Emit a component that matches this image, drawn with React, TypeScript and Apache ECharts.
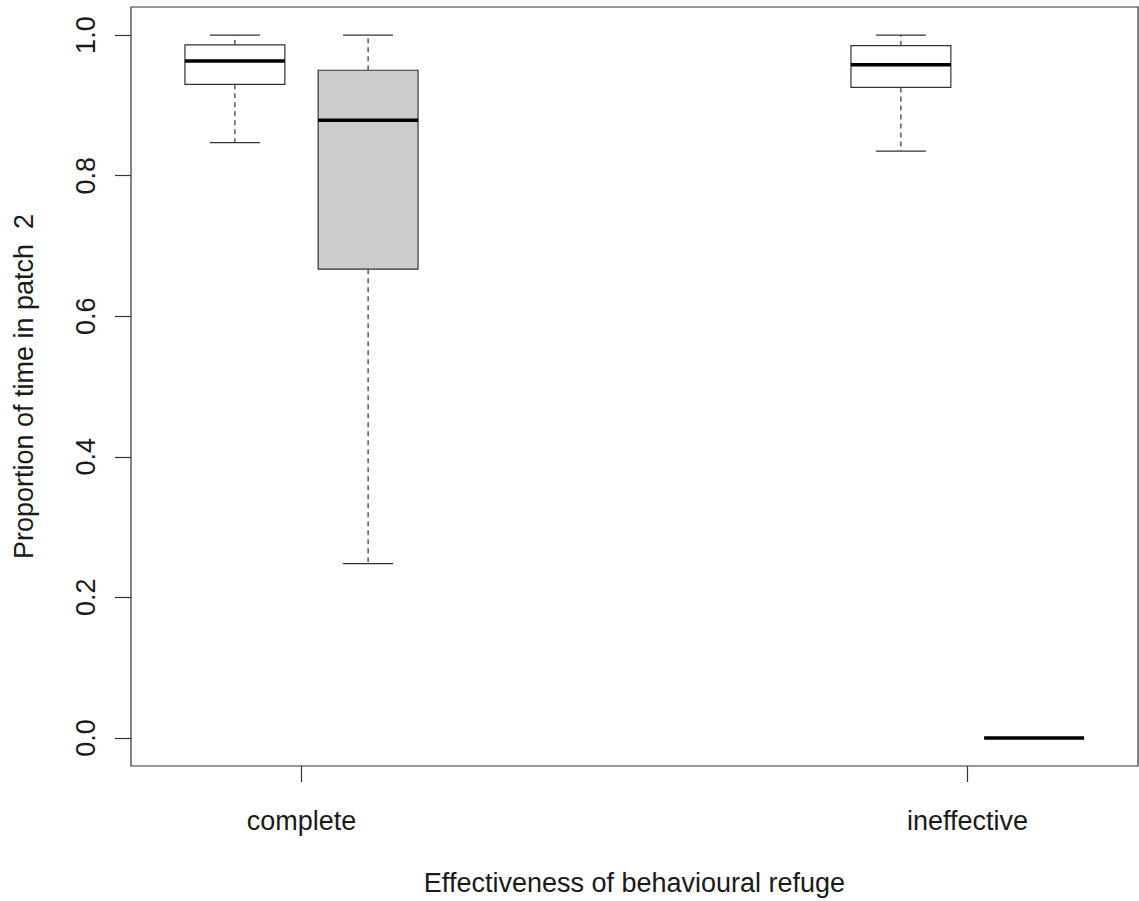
import React, { useEffect, useRef } from "react";
import * as echarts from "echarts";

// ---- data ----
const categories = ["complete", "ineffective"];
const categoryPositions = [1.5, 6.5];
const boxPositions = [1, 2, 6, 7];
const boxMin = [0.847, 0.248, 0.835, 0.0];
const boxQ1 = [0.930, 0.667, 0.9255, 0.0];
const boxMedian = [0.963, 0.879, 0.958, 0.0];
const boxQ3 = [0.986, 0.950, 0.985, 0.0];
const boxMax = [1.0, 1.0, 1.0, 0.0];
const yTicks = [0, 0.2, 0.4, 0.6, 0.8, 1.0];

const xTitle = "Effectiveness of behavioural refuge";
const yTitle = "Proportion of time in patch  2";

const FONT = "'Liberation Sans', Arial, Helvetica, sans-serif";
const FS = 27;
const LINE = "#333333";

export default function App() {
  const ref = useRef<HTMLDivElement>(null);

  useEffect(() => {
    if (!ref.current) return;
    const chart = echarts.init(ref.current, undefined, { renderer: "svg" });

    const data = boxPositions.map((p, i) => [
      p,
      boxMin[i],
      boxQ1[i],
      boxMedian[i],
      boxQ3[i],
      boxMax[i],
      i,
    ]);

    const renderItem = (params: any, api: any) => {
      const pos = api.value(0);
      const idx = api.value(6);
      const pMin = api.coord([pos, api.value(1)]);
      const pQ1 = api.coord([pos, api.value(2)]);
      const pMed = api.coord([pos, api.value(3)]);
      const pQ3 = api.coord([pos, api.value(4)]);
      const pMax = api.coord([pos, api.value(5)]);
      const bw = api.size([0.75, 0])[0];
      const cx = pMed[0];
      const half = bw / 2;
      const capHalf = bw / 4;
      const fill = idx % 2 === 1 ? "#cccccc" : "#ffffff";
      const thin = { stroke: LINE, lineWidth: 1.2 };
      const dashed = { stroke: LINE, lineWidth: 1.2, lineDash: [5, 4] };
      return {
        type: "group",
        children: [
          {
            type: "line",
            shape: { x1: cx, y1: pQ3[1], x2: cx, y2: pMax[1] },
            style: dashed,
          },
          {
            type: "line",
            shape: { x1: cx, y1: pQ1[1], x2: cx, y2: pMin[1] },
            style: dashed,
          },
          {
            type: "line",
            shape: { x1: cx - capHalf, y1: pMax[1], x2: cx + capHalf, y2: pMax[1] },
            style: thin,
          },
          {
            type: "line",
            shape: { x1: cx - capHalf, y1: pMin[1], x2: cx + capHalf, y2: pMin[1] },
            style: thin,
          },
          {
            type: "rect",
            shape: { x: cx - half, y: pQ3[1], width: bw, height: pQ1[1] - pQ3[1] },
            style: { fill, stroke: LINE, lineWidth: 1.2 },
          },
          {
            type: "line",
            shape: { x1: cx - half, y1: pMed[1], x2: cx + half, y2: pMed[1] },
            style: { stroke: "#000000", lineWidth: 3.5 },
          },
        ],
      };
    };

    chart.setOption({
      animation: false,
      backgroundColor: "#ffffff",
      grid: {
        left: 131,
        top: 7,
        right: 1,
        bottom: 134,
        show: true,
        borderColor: LINE,
        borderWidth: 1.2,
        backgroundColor: "transparent",
        containLabel: false,
      },
      xAxis: {
        type: "value",
        min: 0.22,
        max: 7.78,
        axisLine: { show: false, onZero: false },
        splitLine: { show: false },
        axisTick: {
          show: true,
          inside: false,
          length: 16,
          customValues: categoryPositions,
          lineStyle: { color: LINE, width: 1.2 },
        },
        axisLabel: {
          show: true,
          customValues: categoryPositions,
          formatter: (v: number) => {
            const k = categoryPositions.findIndex((c) => Math.abs(c - v) < 1e-6);
            return k >= 0 ? categories[k] : "";
          },
          margin: 41,
          fontFamily: FONT,
          fontSize: FS,
          color: "#1a1a1a",
        },
        name: xTitle,
        nameLocation: "middle",
        nameGap: 103,
        nameTextStyle: { fontFamily: FONT, fontSize: FS, color: "#1a1a1a" },
      },
      yAxis: {
        type: "value",
        min: -0.04,
        max: 1.04,
        axisLine: { show: false, onZero: false },
        splitLine: { show: false },
        axisTick: {
          show: true,
          inside: false,
          length: 16,
          customValues: yTicks,
          lineStyle: { color: LINE, width: 1.2 },
        },
        axisLabel: {
          show: true,
          customValues: yTicks,
          rotate: 90,
          formatter: (v: number) => v.toFixed(1),
          margin: 32,
          fontFamily: FONT,
          fontSize: FS,
          color: "#1a1a1a",
        },
        name: yTitle,
        nameLocation: "middle",
        nameRotate: 90,
        nameGap: 94,
        nameTextStyle: { fontFamily: FONT, fontSize: FS, color: "#1a1a1a" },
      },
      series: [
        {
          type: "custom",
          renderItem,
          data,
          encode: { x: 0, y: [1, 2, 3, 4, 5] },
          clip: false,
        },
      ],
    });

    return () => chart.dispose();
  }, []);

  return (
    <div
      ref={ref}
      style={{ position: "fixed", left: 0, top: 0, width: 1139, height: 901, background: "#fff" }}
    />
  );
}
